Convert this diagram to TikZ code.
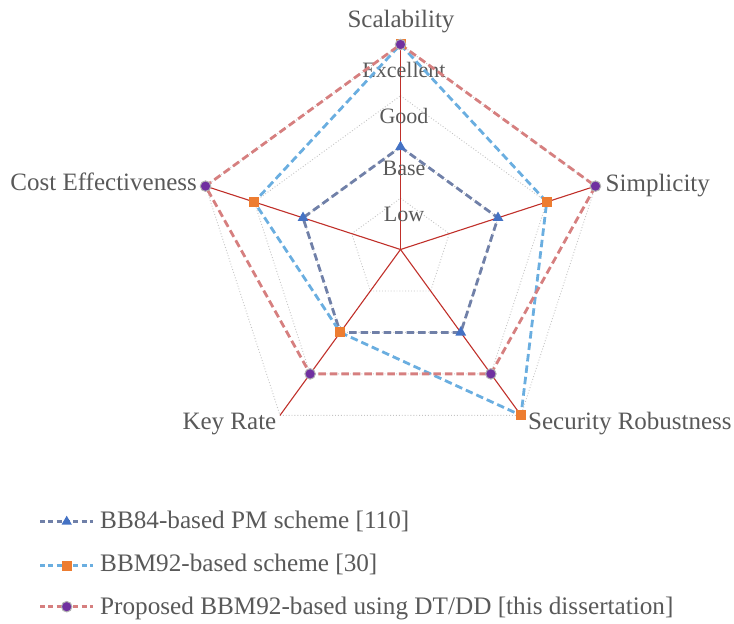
\documentclass[tikz,border=0pt]{standalone}
\usepackage{fontspec}
\setmainfont{Liberation Serif}
\usetikzlibrary{shapes.geometric}
\definecolor{txt}{HTML}{595959}
\definecolor{axisred}{HTML}{C0302A}
\definecolor{gridgray}{HTML}{C4C4C4}
\definecolor{lineA}{HTML}{7080A8}
\definecolor{markA}{HTML}{4472C4}
\definecolor{lineB}{HTML}{6AAEE0}
\definecolor{markB}{HTML}{ED7D31}
\definecolor{lineC}{HTML}{D67F7F}
\definecolor{markC}{HTML}{7030A0}
\begin{document}
\begin{tikzpicture}[x=1pt,y=1pt,
  axislab/.style={font=\fontsize{25}{25}\selectfont, text=txt, inner sep=0pt},
  levellab/.style={font=\fontsize{22}{22}\selectfont, text=txt, inner sep=0pt},
  leglab/.style={font=\fontsize{25.2}{25.2}\selectfont, text=txt, inner sep=0pt, anchor=base west},
  gridline/.style={gridgray, dotted, line width=0.9pt},
  axisline/.style={axisred, line width=1.1pt},
  serA/.style={lineA, line width=2.8pt, dash pattern=on 7.5pt off 4pt, line join=round},
  serB/.style={lineB, line width=2.8pt, dash pattern=on 7.5pt off 4pt, line join=round},
  serC/.style={lineC, line width=2.8pt, dash pattern=on 7.5pt off 4pt, line join=round},
  legA/.style={lineA, line width=2.6pt, dash pattern=on 5pt off 3.3pt},
  legB/.style={lineB, line width=2.6pt, dash pattern=on 5pt off 3.3pt},
  legC/.style={lineC, line width=2.6pt, dash pattern=on 5pt off 3.3pt},
  triA/.style={regular polygon, regular polygon sides=3, fill=markA, minimum size=12.5pt, inner sep=0pt},
  sqB/.style={rectangle, fill=markB, minimum size=10pt, inner sep=0pt},
  dotC/.style={circle, fill=markC, draw=gray!60, line width=1pt, minimum size=10.5pt, inner sep=0pt},
]
\useasboundingbox (0,0) rectangle (734,624);
\begin{scope}[shift={(400.5,374.5)}]
  \coordinate (o) at (0,0);
  \foreach \k in {0,...,4}{
    \foreach \n in {1,...,4}{
      \coordinate (g\n-\k) at ({90-72*\k}:{51.25*\n});
    }
  }
\end{scope}
% grid
\foreach \n in {1,...,4}
  \draw[gridline] (g\n-0) -- (g\n-1) -- (g\n-2) -- (g\n-3) -- (g\n-4) -- cycle;
% axes
\foreach \k in {0,...,4}
  \draw[axisline] (o) -- (g4-\k);
% level labels
\node[levellab, anchor=base] (lv4) at (404,546.7) {Excellent};
\node[levellab, anchor=base] (lv3) at (404,500) {Good};
\node[levellab, anchor=base] (lv2) at (404,448) {Base};
\node[levellab, anchor=base] (lv1) at (404,402.3) {Low};
% axis labels
\node[axislab, anchor=base] (t0) at (401,596) {Scalability};
\node[axislab, anchor=base west] (t1) at (605.5,432.5) {Simplicity};
\node[axislab, anchor=base west] (t2) at (528,194) {Security Robustness};
\node[axislab, anchor=base east] (t3) at (276.5,194) {Key Rate};
\node[axislab, anchor=base east] (t4) at (197,433.3) {Cost Effectiveness};
% series A: BB84
\draw[serA] (g2-0) -- (g2-1) -- (g2-2) -- (g2-3) -- (g2-4) -- cycle;
% series B: BBM92
\draw[serB] (g4-0) -- (g3-1) -- (g4-2) -- (g2-3) -- (g3-4) -- cycle;
% series C: proposed
\draw[serC] (g4-0) -- (g4-1) -- (g3-2) -- (g3-3) -- (g4-4) -- cycle;
% markers
\foreach \k in {0,...,4}
  \node[triA] (mA\k) at (g2-\k) {};
\foreach \p/\q in {0/g4-0,1/g3-1,2/g4-2,3/g2-3,4/g3-4}
  \node[sqB] (mB\p) at (\q) {};
\foreach \p/\q in {0/g4-0,1/g4-1,2/g3-2,3/g3-3,4/g4-4}
  \node[dotC] (mC\p) at (\q) {};
% legend
\coordinate (la1) at (40,102.3); \coordinate (la2) at (93.4,102.3);
\coordinate (lb1) at (40,58.3); \coordinate (lb2) at (93.4,58.3);
\coordinate (lc1) at (40,17.3); \coordinate (lc2) at (93.4,17.3);
\draw[legA] (la1) -- (la2);
\draw[legB] (lb1) -- (lb2);
\draw[legC] (lc1) -- (lc2);
\node[triA, minimum size=12pt] (lma) at (66.7,102.3) {};
\node[sqB, minimum size=10pt] (lmb) at (66.7,58.3) {};
\node[dotC, minimum size=10.5pt] (lmc) at (66.7,17.3) {};
\node[leglab] (ta) at (100,95.7) {BB84-based PM scheme [110]};
\node[leglab] (tb) at (100,52) {BBM92-based scheme [30]};
\node[leglab] (tc) at (100,9) {Proposed BBM92-based using DT/DD [this dissertation]};
\end{tikzpicture}
\end{document}
